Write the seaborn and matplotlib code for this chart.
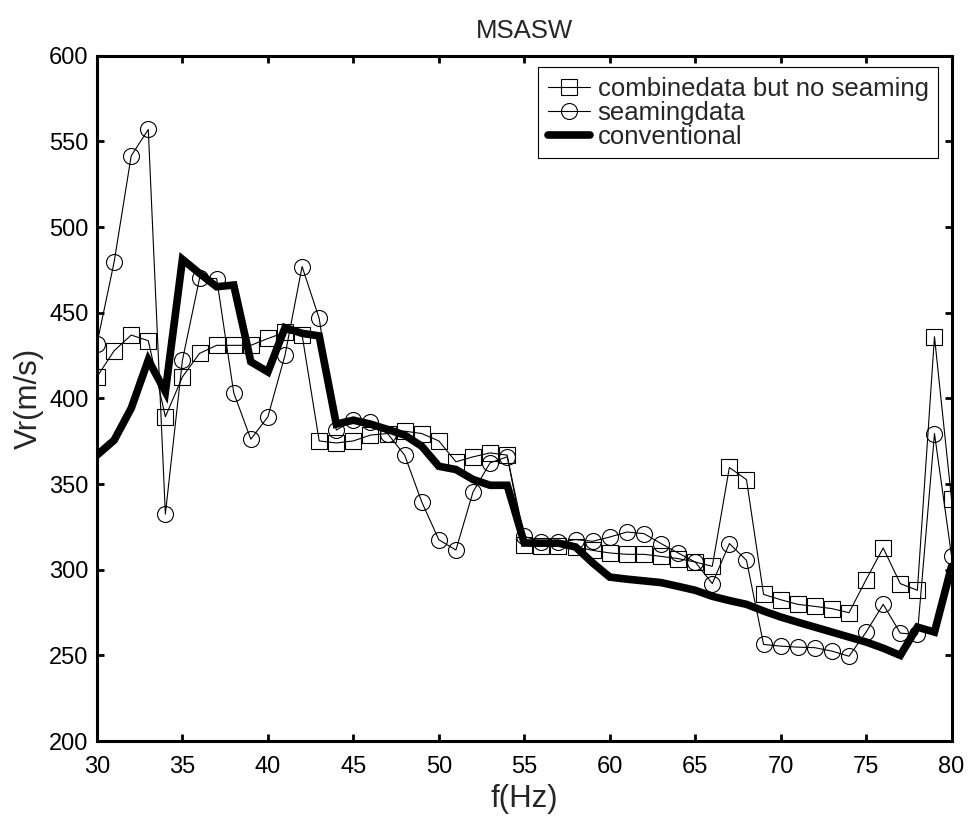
import matplotlib
matplotlib.use("Agg")
import matplotlib.pyplot as plt
import seaborn as sns
import pandas as pd

freq = list(range(30, 81))

combine_no_seaming = [
    412.6, 427.8, 437.0, 433.7, 389.3, 412.6, 426.3, 431.0, 431.0, 431.0,
    435.0, 438.6, 437.0, 375.2, 374.0, 375.2, 378.6, 379.5, 380.9, 379.5,
    375.2, 363.0, 365.9, 368.2, 366.9, 314.3, 313.9, 314.0, 313.3, 311.3,
    309.8, 309.0, 309.0, 307.8, 306.5, 304.5, 302.0, 359.7, 352.6, 285.6,
    282.5, 279.8, 278.6, 277.3, 274.9, 294.2, 312.7, 291.9, 288.0, 436.0,
    341.0,
]

seaming = [
    432.0, 479.5, 541.6, 557.0, 332.5, 422.4, 470.1, 470.0, 403.3, 376.2,
    389.3, 425.3, 477.0, 446.7, 381.5, 387.3, 386.0, 379.5, 366.9, 339.6,
    317.5, 311.5, 345.4, 362.4, 365.9, 319.5, 316.2, 316.0, 317.6, 316.6,
    319.1, 322.0, 321.1, 315.3, 309.8, 304.5, 291.9, 315.3, 305.5, 256.4,
    255.4, 254.8, 254.5, 252.5, 249.5, 263.6, 279.8, 263.0, 262.2, 379.5,
    308.0,
]

conventional = [
    366.9, 375.6, 394.2, 422.4, 403.9, 481.2, 473.0, 465.2, 466.2, 421.4,
    415.5, 441.3, 438.0, 436.5, 385.0, 387.3, 385.0, 381.9, 378.6, 372.1,
    360.4, 358.5, 352.7, 349.3, 349.3, 315.6, 315.5, 315.5, 313.3, 304.0,
    295.7, 294.5, 293.5, 292.5, 290.3, 288.0, 284.5, 282.0, 279.8, 275.9,
    272.4, 269.4, 266.5, 263.6, 260.7, 257.8, 254.2, 250.0, 266.5, 263.6,
    302.0,
]

labels = ["combinedata but no seaming", "seamingdata", "conventional"]
x_ticks = [30, 35, 40, 45, 50, 55, 60, 65, 70, 75, 80]
y_ticks = [200, 250, 300, 350, 400, 450, 500, 550, 600]

df = pd.DataFrame({"f": freq, "combine": combine_no_seaming,
                   "seaming": seaming, "conv": conventional})

sns.set_theme(style="ticks")
plt.rcParams["font.family"] = ["Liberation Sans", "DejaVu Sans"]

fig = plt.figure(figsize=(9.70, 8.21), dpi=100)
ax = fig.add_axes([0.100, 0.0974, 0.881, 0.8346])

sns.lineplot(data=df, x="f", y="combine", ax=ax, color="black", linewidth=0.8,
             marker="s", markersize=11, markerfacecolor="none",
             markeredgecolor="black", markeredgewidth=0.8, label=labels[0])
sns.lineplot(data=df, x="f", y="seaming", ax=ax, color="black", linewidth=0.8,
             marker="o", markersize=11.5, markerfacecolor="none",
             markeredgecolor="black", markeredgewidth=0.8, label=labels[1])
sns.lineplot(data=df, x="f", y="conv", ax=ax, color="black", linewidth=5.5,
             label=labels[2], solid_joinstyle="miter")

ax.set_xlim(30, 80)
ax.set_ylim(200, 600)
ax.set_xticks(x_ticks)
ax.set_yticks(y_ticks)
ax.set_xlabel("f(Hz)", fontsize=22.5, labelpad=4)
ax.set_ylabel("Vr(m/s)", fontsize=22.5, labelpad=4)
ax.set_title("MSASW", fontsize=18.5, pad=13)

for s in ax.spines.values():
    s.set_visible(True)
    s.set_linewidth(2.2)
    s.set_color("black")
ax.tick_params(direction="in", length=5, width=2, labelsize=17,
               top=True, right=True, colors="black")
ax.tick_params(axis="x", pad=11)
ax.tick_params(axis="y", pad=6)
ax.set_facecolor("white")

leg = ax.legend(loc="upper right", bbox_to_anchor=(0.984, 0.983), fontsize=18.5,
                frameon=True, fancybox=False, edgecolor="black",
                handlelength=1.65, handletextpad=0.3, labelspacing=0.0,
                borderpad=0.36, borderaxespad=0.0)
leg.get_frame().set_linewidth(0.8)
leg.get_frame().set_facecolor("white")
leg.get_frame().set_alpha(1.0)

fig.savefig("out.png", dpi=100, facecolor="white")
